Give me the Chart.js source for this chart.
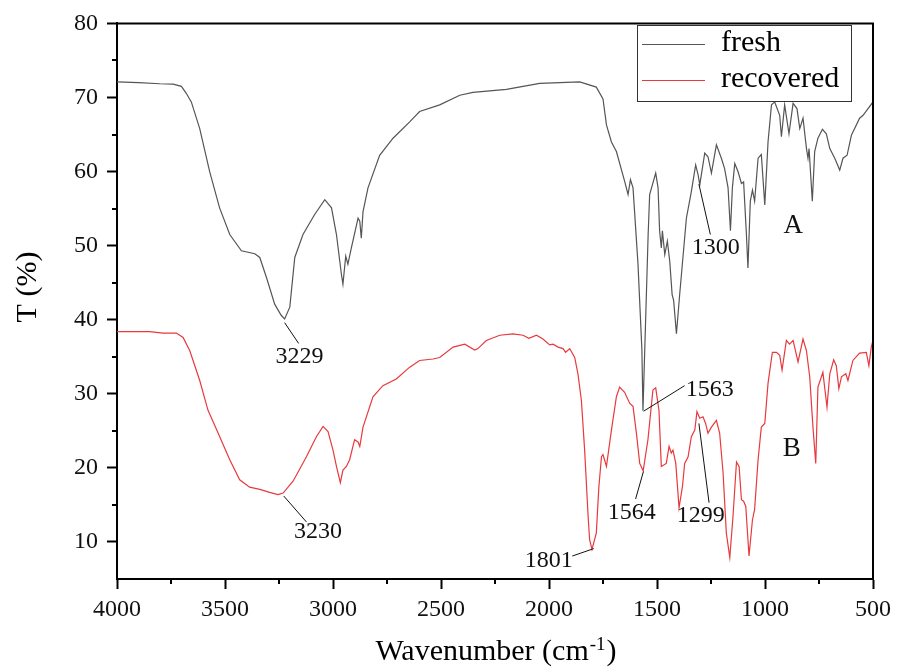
<!DOCTYPE html>
<html>
<head>
<meta charset="utf-8">
<script src="https://cdn.jsdelivr.net/npm/chart.js@4/dist/chart.umd.min.js"></script>
<style>
  html, body { margin: 0; padding: 0; background: #fff; }
  #wrap { width: 898px; height: 668px; }
</style>
</head>
<body>
<div id="wrap"><canvas id="ftir" width="898" height="668"></canvas></div>
<script>
// FTIR spectra, wavenumber (cm-1) vs transmittance (%)
var wnFresh = [4000,3900,3802,3740,3702,3680,3656,3617,3571,3525,3478,3424,3362,3339,3308,3270,3240,3224,3200,3177,3139,3085,3038,3007,2984,2961,2954,2941,2931,2915,2884,2876,2869,2861,2838,2784,2722,2645,2599,2506,2413,2352,2197,2120,2043,1858,1781,1750,1734,1711,1688,1650,1634,1623,1611,1588,1570,1565,1541,1534,1506,1495,1488,1480,1475,1464,1452,1441,1430,1423,1410,1395,1364,1341,1321,1310,1302,1279,1264,1248,1225,1202,1187,1171,1160,1151,1140,1125,1109,1099,1086,1079,1068,1058,1048,1032,1017,1001,986,970,955,932,924,909,889,870,852,839,824,808,801,796,781,770,755,734,716,700,677,654,639,620,600,562,546,523,500];
var tFresh = [72.1,72.0,71.85,71.8,71.5,70.6,69.4,65.8,60.0,55.1,51.5,49.3,48.9,48.4,45.7,42.1,40.6,40.1,41.7,48.4,51.5,54.2,56.2,55.1,51.5,46.1,44.8,48.6,47.5,49.7,53.7,53.3,51.0,54.6,57.8,62.2,64.5,66.7,68.1,69.0,70.3,70.7,71.1,71.5,71.9,72.1,71.4,69.8,66.3,64.0,62.7,58.7,56.9,58.9,57.8,47.5,36.0,27.7,51.5,56.9,59.8,57.8,52.0,49.7,52.0,48.8,50.6,47.9,43.4,42.6,38.1,43.4,53.7,57.3,60.9,59.6,58.2,62.5,62.0,59.8,63.6,61.8,60.4,57.8,52.0,57.8,61.1,60.0,58.4,58.6,51.5,47.0,56.0,57.5,56.0,61.8,62.3,55.5,64.0,69.0,69.4,67.6,64.7,69.0,65.1,69.2,68.5,65.8,67.2,63.1,61.8,63.1,56.0,62.7,64.5,65.7,65.1,63.1,61.8,60.2,61.8,62.2,64.9,67.2,67.6,68.5,69.4];

var wnRecovered = [4000,3849,3787,3725,3694,3663,3617,3579,3532,3478,3432,3386,3339,3293,3255,3231,3185,3123,3077,3046,3023,3000,2984,2966,2954,2938,2923,2900,2884,2876,2861,2815,2769,2707,2645,2599,2537,2506,2444,2390,2344,2329,2290,2228,2167,2120,2093,2058,2028,1997,1981,1958,1935,1923,1904,1881,1866,1850,1835,1819,1812,1801,1781,1769,1757,1750,1734,1711,1688,1673,1650,1626,1611,1595,1580,1564,1542,1519,1506,1491,1480,1457,1444,1434,1426,1413,1398,1382,1372,1356,1341,1325,1315,1302,1287,1275,1264,1248,1225,1210,1194,1179,1163,1148,1132,1120,1109,1099,1089,1074,1058,1048,1032,1017,1001,986,966,947,932,921,901,886,870,847,824,808,793,778,765,755,732,713,700,682,670,658,646,626,616,593,562,531,519,508,500];
var tRecovered = [38.4,38.4,38.2,38.2,37.6,35.8,31.8,27.8,24.7,21.1,18.4,17.4,17.1,16.7,16.4,16.6,18.2,21.5,24.2,25.6,24.9,22.4,20.2,18.0,19.7,20.2,21.1,23.8,23.5,22.9,25.5,29.6,31.1,32.0,33.6,34.5,34.7,34.9,36.3,36.7,35.9,36.1,37.2,37.9,38.1,37.9,37.5,37.9,37.4,36.6,36.7,36.3,36.1,35.6,36.1,34.9,32.7,29.1,22.4,13.5,10.3,9.0,11.2,17.5,21.5,21.8,20.2,25.1,29.6,30.9,30.2,28.7,28.3,24.6,20.6,19.6,23.8,30.5,30.8,27.8,20.2,20.6,22.9,22.0,22.4,20.6,14.6,17.5,20.6,21.5,24.2,25.1,27.6,26.7,26.9,26.0,24.7,25.5,26.4,24.7,19.3,11.2,7.9,13.5,20.8,20.2,15.7,15.5,14.8,8.1,13.0,14.4,21.1,25.5,26.0,31.4,35.6,35.6,35.2,33.2,37.2,36.7,37.2,34.3,37.4,35.8,32.3,25.5,20.6,30.9,32.9,28.2,32.7,34.6,33.8,30.7,32.3,32.7,31.8,34.5,35.5,35.6,33.8,36.3,37.2];

var xTicks = [4000,3500,3000,2500,2000,1500,1000,500];
var yTicks = [10,20,30,40,50,60,70,80];
var seriesNames = ['fresh','recovered'];

// peak labels: [text, point on curve (wn,T), end of leader (wn,T), text centre (wn,T)]
var peakLabels = [
  ['3229', [3224,39.6], [3159,36.8], [3155,35.0]],
  ['3230', [3228,16.2], [3123,12.7], [3069,11.4]],
  ['1801', [1793,9.1],  [1892,8.1],  [2001,7.5]],
  ['1564', [1563,19.5], [1599,15.8], [1617,14.0]],
  ['1563', [1562,27.65],[1372,31.1], [1256,30.5]],
  ['1299', [1306,26.0], [1259,15.3], [1298,13.6]],
  ['1300', [1306,58.3], [1253,51.5], [1228,49.7]]
];
var curveLetters = [['A',869,52.6],['B',876,22.6]];

var serif = '"Liberation Serif", "Times New Roman", serif';

function toPoints(xs, ys){
  var out = [];
  for (var i = 0; i < xs.length; i++) out.push({x: xs[i], y: ys[i]});
  return out;
}

var decorations = {
  id: 'decorations',
  afterDatasetsDraw: function(chart){
    var ctx = chart.ctx, ca = chart.chartArea;
    var xs = chart.scales.x, ys = chart.scales.y;
    ctx.save();
    // top + right frame
    ctx.strokeStyle = '#000';
    ctx.lineWidth = 2;
    ctx.beginPath();
    ctx.moveTo(ca.left, ca.top);
    ctx.lineTo(ca.right, ca.top);
    ctx.lineTo(ca.right, ca.bottom);
    ctx.stroke();
    // minor ticks
    ctx.beginPath();
    for (var v = 3750; v > 500; v -= 500) {
      var px = Math.round(xs.getPixelForValue(v));
      ctx.moveTo(px, ca.bottom); ctx.lineTo(px, ca.bottom + 5);
    }
    for (var t = 15; t < 80; t += 10) {
      var py = Math.round(ys.getPixelForValue(t));
      ctx.moveTo(ca.left, py); ctx.lineTo(ca.left - 5, py);
    }
    ctx.stroke();

    // peak labels
    ctx.lineWidth = 1;
    ctx.strokeStyle = '#111';
    ctx.fillStyle = '#111';
    ctx.font = '24px ' + serif;
    ctx.textAlign = 'center';
    ctx.textBaseline = 'middle';
    peakLabels.forEach(function(p){
      ctx.beginPath();
      ctx.moveTo(xs.getPixelForValue(p[1][0]), ys.getPixelForValue(p[1][1]));
      ctx.lineTo(xs.getPixelForValue(p[2][0]), ys.getPixelForValue(p[2][1]));
      ctx.stroke();
      ctx.fillText(p[0], xs.getPixelForValue(p[3][0]), ys.getPixelForValue(p[3][1]));
    });
    ctx.font = '27px ' + serif;
    curveLetters.forEach(function(l){
      ctx.fillText(l[0], xs.getPixelForValue(l[1]), ys.getPixelForValue(l[2]));
    });

    // legend
    var lx = 637, ly = 25, lw = 214, lh = 76;
    ctx.fillStyle = '#fff';
    ctx.fillRect(lx, ly, lw, lh);
    ctx.strokeStyle = '#333';
    ctx.lineWidth = 1;
    ctx.strokeRect(lx + 0.5, ly + 0.5, lw, lh);
    ctx.font = '30px ' + serif;
    ctx.textAlign = 'left';
    chart.data.datasets.forEach(function(ds, i){
      var yy = i === 0 ? 44.5 : 80.5;
      ctx.strokeStyle = ds.borderColor;
      ctx.beginPath();
      ctx.moveTo(642, yy); ctx.lineTo(705, yy);
      ctx.stroke();
      ctx.fillStyle = '#000';
      ctx.fillText(ds.label, 721, yy - 1);
    });

    // axis titles
    ctx.fillStyle = '#000';
    ctx.font = '30px ' + serif;
    ctx.textBaseline = 'alphabetic';
    var main = 'Wavenumber (cm', sup = '-1', close = ')';
    var w1 = ctx.measureText(main).width;
    ctx.font = '19px ' + serif;
    var w2 = ctx.measureText(sup).width;
    ctx.font = '30px ' + serif;
    var w3 = ctx.measureText(close).width;
    var x0 = (ca.left + ca.right) / 2 - (w1 + w2 + w3) / 2;
    ctx.fillText(main, x0, 660);
    ctx.font = '19px ' + serif;
    ctx.fillText(sup, x0 + w1 + 1, 650);
    ctx.font = '30px ' + serif;
    ctx.fillText(close, x0 + w1 + w2 + 2, 660);

    ctx.translate(28, 287);
    ctx.rotate(-Math.PI / 2);
    ctx.textAlign = 'center';
    ctx.textBaseline = 'middle';
    ctx.fillText('T (%)', 0, 0);
    ctx.restore();
  }
};

new Chart(document.getElementById('ftir'), {
  type: 'line',
  data: {
    datasets: [{
      label: seriesNames[0],
      data: toPoints(wnFresh, tFresh),
      borderColor: '#555555',
      borderWidth: 1.2,
      pointRadius: 0,
      tension: 0
    }, {
      label: seriesNames[1],
      data: toPoints(wnRecovered, tRecovered),
      borderColor: '#e8393c',
      borderWidth: 1.2,
      pointRadius: 0,
      tension: 0
    }]
  },
  options: {
    responsive: false,
    animation: false,
    events: [],
    layout: { padding: { top: 21, right: 25, left: 0, bottom: 0 } },
    plugins: { legend: { display: false }, tooltip: { enabled: false } },
    scales: {
      x: {
        type: 'linear',
        reverse: true,
        min: 500,
        max: 4000,
        afterBuildTicks: function(s){ s.ticks = xTicks.map(function(v){ return {value: v}; }); },
        afterFit: function(s){ s.height = 89; },
        grid: { drawOnChartArea: false, drawTicks: true, tickLength: 10, tickWidth: 2, tickColor: '#000' },
        border: { display: true, color: '#000', width: 2 },
        ticks: { color: '#111', font: { family: serif, size: 24 }, padding: 6, maxRotation: 0, autoSkip: false,
                 callback: function(v){ return String(v); } }
      },
      y: {
        min: 5,
        max: 80,
        afterBuildTicks: function(s){ s.ticks = yTicks.map(function(v){ return {value: v}; }); },
        afterFit: function(s){ s.width = 117; },
        grid: { drawOnChartArea: false, drawTicks: true, tickLength: 10, tickWidth: 2, tickColor: '#000' },
        border: { display: true, color: '#000', width: 2 },
        ticks: { color: '#111', font: { family: serif, size: 24 }, padding: 9, autoSkip: false,
                 callback: function(v){ return String(v); } }
      }
    }
  },
  plugins: [decorations]
});
</script>
</body>
</html>
